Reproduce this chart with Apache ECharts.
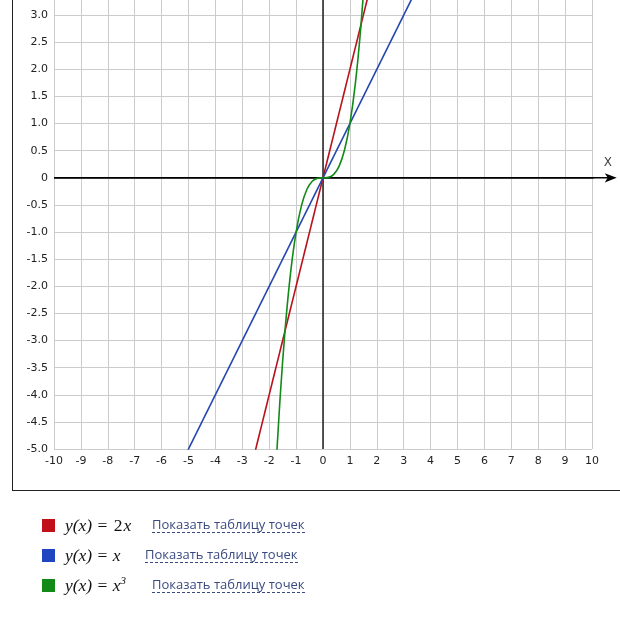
<!DOCTYPE html>
<html>
<head>
<meta charset="utf-8">
<script src="https://cdn.jsdelivr.net/npm/echarts@6/dist/echarts.min.js"></script>
<style>
    html, body { margin: 0; padding: 0; background: #fff; }
    #wrap { position: relative; width: 620px; height: 631px; overflow: hidden; }
    #box { position: absolute; left: 12px; top: -2px; width: 620px; height: 492px;
           border-left: 1.5px solid #222; border-bottom: 1.5px solid #222; }
    #chart { position: absolute; left: 0; top: 0; width: 620px; height: 631px; }
    #legend { position: absolute; left: 42px; top: 510px; }
    .row { position: relative; height: 30px; width: 400px; display: flex; align-items: center; white-space: nowrap; }
    .sw { width: 13px; height: 13px; margin-right: 10px; }
    .fx { font-family: "Liberation Serif", "DejaVu Serif", serif; font-style: italic; font-size: 17.5px; color: #111; }
    .fx .n { font-style: normal; margin: 0 1px; }
    .lnk { position: absolute; top: 7px; font-family: "Open Sans", "DejaVu Sans", sans-serif; font-size: 13px; color: #3a4a80;
           border-bottom: 1px dashed #3a4a80; line-height: 15px; }
</style>
</head>
<body>
<div id="wrap">
    <div id="box"></div>
    <div id="chart"></div>
    <div id="legend">
        <div class="row"><div class="sw" style="background:#c0111a"></div><span class="fx">y(x) <span class="n">=</span> <span class="n">2</span>x</span><span class="lnk" style="left:110px">Показать таблицу точек</span></div>
        <div class="row"><div class="sw" style="background:#1f45c0"></div><span class="fx">y(x) <span class="n">=</span> x</span><span class="lnk" style="left:103px">Показать таблицу точек</span></div>
        <div class="row"><div class="sw" style="background:#118a18"></div><span class="fx">y(x) <span class="n">=</span> x<sup style="font-size:11px">3</sup></span><span class="lnk" style="left:110px">Показать таблицу точек</span></div>
    </div>
</div>
<script>
// диапазоны осей
var xMin = -10, xMax = 10;
var yMin = -5, yMax = 3.5;

// y = 2x и y = x
var lineX = [-10, 10];
var redY = [-20, 20];
var blueY = [-10, 10];

// y = x^3
var cubeX = [-2, -1.8, -1.6, -1.4, -1.2, -1, -0.8, -0.6, -0.4, -0.2, 0, 0.2, 0.4, 0.6, 0.8, 1, 1.2, 1.4, 1.6, 1.8, 2];
var cubeY = [-8, -5.832, -4.096, -2.744, -1.728, -1, -0.512, -0.216, -0.064, -0.008, 0, 0.008, 0.064, 0.216, 0.512, 1, 1.728, 2.744, 4.096, 5.832, 8];

// оси
var axisXEnd = 10.92;
var axisYTop = 3.5;

function pairs(xs, ys) {
    var out = [];
    for (var i = 0; i < xs.length; i++) out.push([xs[i], ys[i]]);
    return out;
}

var chart = echarts.init(document.getElementById('chart'), null, { renderer: 'canvas' });

var option = {
    animation: false,
    grid: { left: 54, right: 28, top: -12, bottom: 182, outerBoundsMode: 'none' },
    xAxis: {
        type: 'value',
        min: xMin, max: xMax, interval: 1,
        axisLine: { show: false, onZero: false },
        axisTick: { show: false },
        axisLabel: { color: '#222', fontSize: 11, fontFamily: 'DejaVu Sans', margin: 7 },
        splitLine: { show: true, lineStyle: { color: '#cccccc', width: 1 } }
    },
    yAxis: {
        type: 'value',
        min: yMin, max: yMax, interval: 0.5,
        axisLine: { show: false, onZero: false },
        axisTick: { show: false },
        axisLabel: {
            color: '#222', fontSize: 11, fontFamily: 'DejaVu Sans', margin: 6,
            formatter: function(v) { return v === 0 ? '0' : v.toFixed(1); }
        },
        splitLine: { show: true, lineStyle: { color: '#cccccc', width: 1 } }
    },
    series: [{
            name: 'ось X',
            type: 'line',
            clip: false,
            silent: true,
            lineStyle: { color: '#000', width: 1.5 },
            itemStyle: { color: '#000' },
            data: [
                { value: [xMin, 0], symbol: 'none' },
                {
                    value: [axisXEnd, 0], symbol: 'arrow', symbolSize: [7, 12], symbolRotate: -90,
                    label: { show: true, formatter: 'X', position: 'top', distance: 4, offset: [-3, 0],
                             color: '#444', fontSize: 12, fontFamily: 'DejaVu Sans' }
                }
            ]
        },
        {
            name: 'ось Y',
            type: 'line',
            clip: false,
            silent: true,
            symbol: 'none',
            lineStyle: { color: '#000', width: 1.3 },
            data: [[0, yMin], [0, axisYTop]]
        },
        {
            name: 'y(x) = 2x',
            type: 'line',
            symbol: 'none',
            lineStyle: { color: '#b8121a', width: 1.6 },
            data: pairs(lineX, redY)
        },
        {
            name: 'y(x) = x',
            type: 'line',
            symbol: 'none',
            lineStyle: { color: '#2446b0', width: 1.6 },
            data: pairs(lineX, blueY)
        },
        {
            name: 'y(x) = x^3',
            type: 'line',
            symbol: 'none',
            smooth: 0.3,
            lineStyle: { color: '#118a18', width: 1.6 },
            data: pairs(cubeX, cubeY)
        }
    ]
};
chart.setOption(option, true);

// ось X дотягиваем до стрелки (за край сетки)
var p0 = chart.convertToPixel({ gridIndex: 0 }, [xMin, 0]);
var p1 = chart.convertToPixel({ gridIndex: 0 }, [axisXEnd, 0]);
chart.setOption({
    graphic: [{
        type: 'line',
        silent: true,
        z: 1,
        shape: { x1: p0[0], y1: p0[1], x2: p1[0] - 4, y2: p1[1] },
        style: { stroke: '#000', lineWidth: 1.5 }
    }]
});
</script>
</body>
</html>
